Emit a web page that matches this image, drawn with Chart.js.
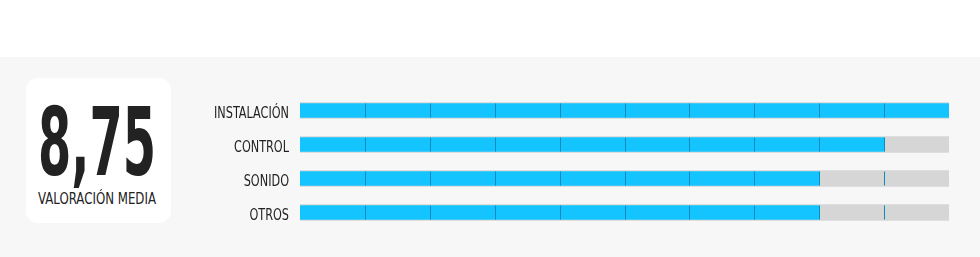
<!DOCTYPE html>
<html>
<head>
<meta charset="utf-8">
<script src="https://cdn.jsdelivr.net/npm/chart.js@4.4.0/dist/chart.umd.min.js"></script>
<style>
  body { margin: 0; background: #fff; width: 980px; height: 257px; overflow: hidden; position: relative; }
  #panel { position: absolute; left: 0; top: 57px; width: 980px; height: 200px; background: #f7f7f7; }
  #score { position: absolute; left: 26px; top: 78px; width: 145px; height: 145px; background: #fff; border-radius: 12px; }
  .line { position: absolute; left: 71px; line-height: 1; color: #222; white-space: nowrap; transform-origin: 50% 50%; }
  #num { top: 9px; font: bold 95px "Liberation Sans Narrow", "DejaVu Sans Condensed", sans-serif; }
  #sub { top: 112px; font: 15.5px "Liberation Sans Narrow", "DejaVu Sans Condensed", sans-serif; color: #222; }
  #chart { position: absolute; left: 0; top: 0; }
</style>
</head>
<body>
<div id="panel"></div>
<div id="score">
  <span class="line" id="num"></span>
  <span class="line" id="sub">VALORACIÓN MEDIA</span>
</div>
<canvas id="chart" width="980" height="257"></canvas>
<script>
const categories = ['INSTALACIÓN', 'CONTROL', 'SONIDO', 'OTROS']
const scores = [10, 9, 8, 8]
const track = [10, 10, 10, 10]
const maxScore = 10

const labelFont = '15.5px "Liberation Sans Narrow", "DejaVu Sans Condensed", sans-serif'

// average shown in the white box
const avg = scores.reduce((a, b) => a + b, 0) / scores.length
document.getElementById('num').textContent = avg.toFixed(2).replace('.', ',')

function squeeze(el, target) {
  const w = el.getBoundingClientRect().width
  if (w > 0) el.style.transform = 'translateX(-50%) scaleX(' + (target / w) + ')'
}

// dividers between points, only inside the bars
const dividers = {
  id: 'dividers',
  afterDatasetsDraw(chart) {
    const ctx = chart.ctx
    const xs = chart.scales.x
    const ys = chart.scales.y
    ctx.save()
    ctx.fillStyle = '#0e8cbd'
    categories.forEach((c, i) => {
      const y = ys.getPixelForValue(i)
      for (let k = 1; k < maxScore; k++) {
        const x = Math.round(xs.getPixelForValue(k))
        ctx.fillRect(x, y - 7, 1, 14)
      }
    })
    ctx.restore()
  }
}

// condensed category labels
const labels = {
  id: 'labels',
  afterDraw(chart) {
    const ctx = chart.ctx
    const ys = chart.scales.y
    const right = chart.chartArea.left - 11
    ctx.save()
    ctx.font = labelFont
    const sx = 75 / ctx.measureText(categories[0]).width
    ctx.fillStyle = '#222'
    ctx.textAlign = 'right'
    ctx.textBaseline = 'alphabetic'
    categories.forEach((c, i) => {
      ctx.save()
      ctx.translate(right, ys.getPixelForValue(i) + 7)
      ctx.scale(sx, 1)
      ctx.fillText(c, 0, 0)
      ctx.restore()
    })
    ctx.restore()
  }
}

function draw() {
  squeeze(document.getElementById('num'), 118)
  squeeze(document.getElementById('sub'), 118)

  new Chart(document.getElementById('chart'), {
    type: 'bar',
    data: {
      labels: categories,
      datasets: [{
        label: 'Valoración',
        data: scores,
        backgroundColor: '#14c4ff',
        barThickness: 14,
        grouped: false,
        order: 0
      }, {
        label: 'Máximo',
        data: track,
        backgroundColor: '#d6d6d6',
        barThickness: 16,
        grouped: false,
        order: 1
      }]
    },
    options: {
      indexAxis: 'y',
      responsive: false,
      animation: false,
      layout: { padding: { left: 300, right: 31, top: 93.5, bottom: 27.5 } },
      scales: {
        x: { min: 0, max: maxScore, display: false },
        y: { display: false }
      },
      plugins: {
        legend: { display: false },
        tooltip: { enabled: false }
      }
    },
    plugins: [dividers, labels]
  })
}

if (document.fonts && document.fonts.ready) {
  document.fonts.ready.then(draw)
} else {
  draw()
}
</script>
</body>
</html>
